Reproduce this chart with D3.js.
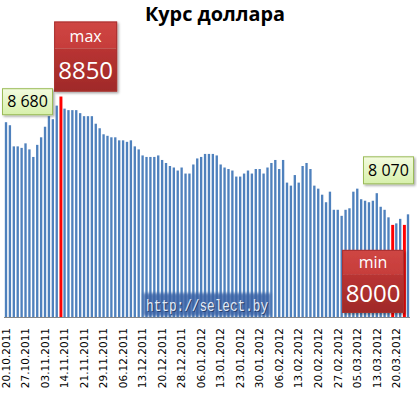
<!DOCTYPE html>
<html><head><meta charset="utf-8">
<script src="https://cdn.jsdelivr.net/npm/d3@7"></script>
<style>body{margin:0;background:#fff}svg{display:block}</style>
</head><body>
<script>
const values = [8680, 8660, 8520, 8520, 8510, 8540, 8500, 8450, 8530, 8580,
  8650, 8720, 8700, 8790, 8850, 8770, 8760, 8760, 8760, 8740,
  8720, 8720, 8720, 8670, 8640, 8600, 8590, 8580, 8580, 8560,
  8560, 8550, 8560, 8520, 8500, 8460, 8450, 8450, 8450, 8460,
  8430, 8410, 8390, 8380, 8360, 8380, 8340, 8340, 8400, 8440,
  8450, 8470, 8470, 8470, 8460, 8400, 8380, 8370, 8360, 8320,
  8320, 8340, 8360, 8340, 8370, 8370, 8340, 8380, 8410, 8430,
  8370, 8430, 8280, 8260, 8330, 8280, 8390, 8410, 8370, 8260,
  8240, 8200, 8150, 8220, 8100, 8100, 8060, 8100, 8110, 8220,
  8240, 8170, 8160, 8150, 8160, 8210, 8120, 8100, 8050, 8000,
  8010, 8040, 8000, 8070];
const categories = d3.range(values.length);
const tickLabels = ["20.10.2011","27.10.2011","03.11.2011","14.11.2011","21.11.2011",
  "29.11.2011","06.12.2011","13.12.2011","20.12.2011","28.12.2011","06.01.2012",
  "13.01.2012","23.01.2012","30.01.2012","06.02.2012","13.02.2012","20.02.2012",
  "27.02.2012","05.03.2012","13.03.2012","20.03.2012"];
const tickEvery = 5;
const title = "Курс доллара";
const watermark = "http://select.by";

const W = 417, H = 393;
const svg = d3.select("body").append("svg").attr("width", W).attr("height", H);
const defs = svg.append("defs");

const x = d3.scaleBand().domain(categories).range([4.05, 409.95]).paddingInner(0.4).paddingOuter(0.2);
const y = d3.scaleLinear().domain([7390, 9000]).range([317, 317 - 1610 * 0.151]);

const vMax = d3.max(values), vMin = d3.min(values);
const iMax = values.indexOf(vMax), iMin = values.lastIndexOf(vMin);
const iFirst = 0, iLast = values.length - 1;

// gradients & filters
const gTop = defs.append("linearGradient").attr("id","redTop").attr("x1",0).attr("y1",0).attr("x2",0).attr("y2",1);
gTop.append("stop").attr("offset","0%").attr("stop-color","#cf4644");
gTop.append("stop").attr("offset","100%").attr("stop-color","#c63d3a");
const gBot = defs.append("linearGradient").attr("id","redBot").attr("x1",0).attr("y1",0).attr("x2",0).attr("y2",1);
gBot.append("stop").attr("offset","0%").attr("stop-color","#b93432");
gBot.append("stop").attr("offset","100%").attr("stop-color","#9f2a28");
const gGreen = defs.append("linearGradient").attr("id","green").attr("x1",0).attr("y1",0).attr("x2",0).attr("y2",1);
gGreen.append("stop").attr("offset","0%").attr("stop-color","#f3fbdf");
gGreen.append("stop").attr("offset","100%").attr("stop-color","#d7f0ab");
const sh = defs.append("filter").attr("id","shadow").attr("x","-20%").attr("y","-20%").attr("width","150%").attr("height","150%");
sh.append("feDropShadow").attr("dx",1.5).attr("dy",1.5).attr("stdDeviation",1.2).attr("flood-color","#000").attr("flood-opacity",0.35);
const bl = defs.append("filter").attr("id","blur").attr("x","-10%").attr("y","-40%").attr("width","120%").attr("height","180%");
bl.append("feGaussianBlur").attr("stdDeviation",1.6);

// bars
svg.append("g").selectAll("rect").data(values).join("rect")
  .attr("x", (d,i) => x(i))
  .attr("width", (d,i) => (d === vMax || d === vMin) ? x.bandwidth() + 0.6 : x.bandwidth())
  .attr("y", d => y(d))
  .attr("height", d => y(7390) - y(d))
  .attr("fill", d => (d === vMax || d === vMin) ? "#ff0000" : "#4f81bd");

// axis
const axisG = svg.append("g").attr("transform", `translate(0,${y(7390)})`);
axisG.append("line").attr("x1", 4).attr("x2", 410).attr("y1", 0.5).attr("y2", 0.5)
  .attr("stroke", "#868686").attr("stroke-width", 1);
axisG.selectAll("text").data(tickLabels).join("text")
  .attr("transform", (d,i) => `translate(${x(i*tickEvery) + x.bandwidth()/2},11) rotate(-90)`)
  .attr("text-anchor", "end").attr("dy", "0.36em")
  .attr("font-family", "DejaVu Sans").attr("font-size", "10.5px").attr("fill", "#000")
  .text(d => d);

// title
const t = svg.append("text").attr("x", 215).attr("y", 21).attr("text-anchor","middle")
  .attr("font-family", "Open Sans").attr("font-weight", "bold").attr("font-size", "17px")
  .attr("fill","#000").text(title);
const tl = t.node().getComputedTextLength();
t.attr("font-size", (17 * 140 / tl).toFixed(2) + "px");

// watermark
const wm = svg.append("g");
wm.append("rect").attr("x", 143).attr("y", 293).attr("width", 128).attr("height", 23)
  .attr("fill", "#3a63a6").attr("opacity", 0.85).attr("filter", "url(#blur)");
wm.append("text").attr("x", 146).attr("y", 310.5).attr("textLength", 122).attr("lengthAdjust","spacingAndGlyphs")
  .attr("font-family","Liberation Mono").attr("font-size","16px").attr("fill","#1d2f55").attr("opacity",0.7)
  .attr("dx",1).attr("dy",1).text(watermark);
wm.append("text").attr("x", 146).attr("y", 310.5).attr("textLength", 122).attr("lengthAdjust","spacingAndGlyphs")
  .attr("font-family","Liberation Mono").attr("font-size","16px").attr("fill","#e4ebf5").text(watermark);

// red callouts
function redBox(x0, y0, w, h, split, label, val) {
  const g = svg.append("g").attr("filter","url(#shadow)");
  g.append("rect").attr("x", x0).attr("y", y0).attr("width", w).attr("height", split).attr("fill","url(#redTop)");
  g.append("rect").attr("x", x0).attr("y", y0 + split).attr("width", w).attr("height", h - split).attr("fill","url(#redBot)");
  g.append("rect").attr("x", x0 + 0.5).attr("y", y0 + 0.5).attr("width", w - 1).attr("height", h - 1)
    .attr("fill","none").attr("stroke","#a83230").attr("stroke-width",1);
  svg.append("text").attr("x", x0 + w/2).attr("y", y0 + split*0.82 - 2).attr("text-anchor","middle")
    .attr("font-family","Open Sans").attr("font-size","16px").attr("fill","#fff").text(label);
  svg.append("text").attr("x", x0 + w/2).attr("y", y0 + split + (h - split)/2 + 8.5).attr("text-anchor","middle")
    .attr("font-family","Open Sans").attr("font-size","24px").attr("fill","#fff").text(val);
}
const cxMax = x(iMax) + x.bandwidth()/2;
redBox(cxMax - 6.5, y(vMax) - 75, 63, 70, 27, "max", String(vMax));
const cxMin = x(iMin) + x.bandwidth()/2;
redBox(cxMin - 62, y(vMin) + 25, 62, 63, 25, "min", String(vMin));

// green callouts
const fmt = d => d3.format(",")(d).replace(",", " ");
function greenBox(x0, y0, w, h, val) {
  svg.append("rect").attr("x", x0 + 0.5).attr("y", y0 + 0.5).attr("width", w).attr("height", h)
    .attr("fill","url(#green)").attr("stroke","#9bbb59").attr("stroke-width",1).attr("filter","url(#shadow)");
  svg.append("text").attr("x", x0 + w/2 + 0.5).attr("y", y0 + h/2 + 6).attr("text-anchor","middle")
    .attr("font-family","Open Sans").attr("font-size","16px").attr("fill","#000").text(fmt(val));
}
const cxFirst = x(iFirst) + x.bandwidth()/2;
greenBox(cxFirst - 4, y(values[iFirst]) - 34, 50, 26, values[iFirst]);
const cxLast = x(iLast) + x.bandwidth()/2;
greenBox(cxLast - 45, y(values[iLast]) - 58, 50, 27, values[iLast]);
</script>
</body></html>
